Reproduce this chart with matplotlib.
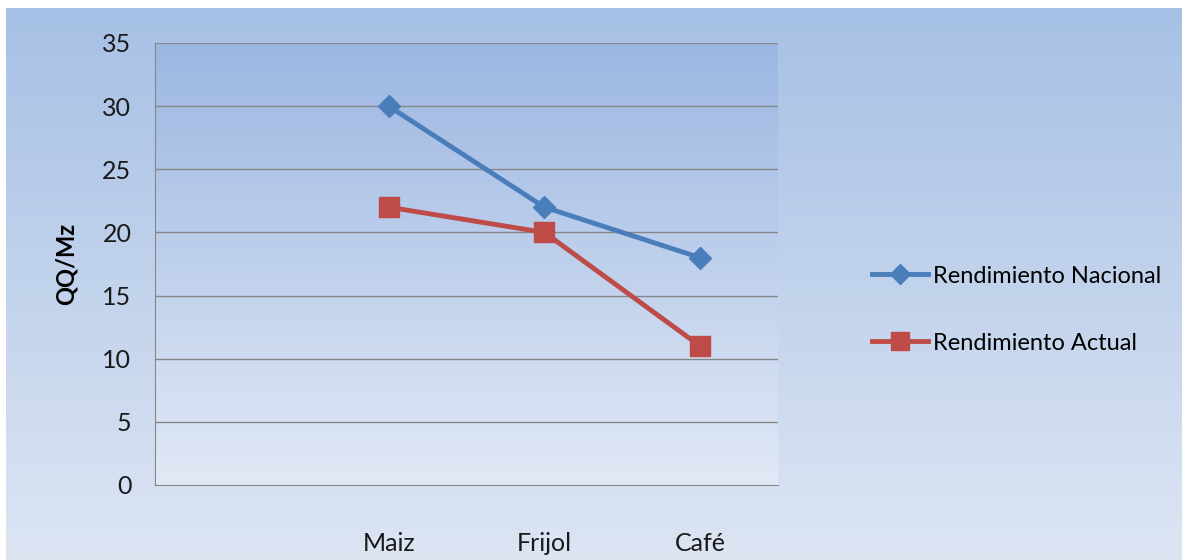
import matplotlib.pyplot as plt
import numpy as np

plt.rcParams['font.family'] = ['Lato', 'DejaVu Sans']

# data
categories = ["", "Maiz", "Frijol", "Café"]
nacional = [30, 22, 18]
actual = [22, 20, 11]
y_ticks = [0, 5, 10, 15, 20, 25, 30, 35]

W, H = 1182, 560
fig = plt.figure(figsize=(W / 100, H / 100), dpi=100)
fig.patch.set_facecolor("white")

# outer background gradient (leaves a thin white border top/left)
bg = fig.add_axes([6 / W, 0, 1 - 6 / W, (H - 8) / H])
bg.axis("off")
top_c = np.array([166, 192, 229]) / 255
bot_c = np.array([221, 229, 243]) / 255
t = np.linspace(0, 1, 256)[:, None]
grad = top_c * (1 - t[..., None]) + bot_c * t[..., None]
bg.imshow(grad, aspect="auto", extent=[0, 1, 0, 1])
bg.set_xlim(0, 1)
bg.set_ylim(0, 1)

# plot area
ax = fig.add_axes([155 / W, (H - 485) / H, 623 / W, 442 / H])
x = np.arange(len(categories))
ax.set_xlim(-0.5, len(categories) - 0.5)
ax.set_ylim(0, 35)

p_top = np.array([156, 183, 226]) / 255
p_bot = np.array([226, 233, 246]) / 255
pgrad = p_top * (1 - t[..., None]) + p_bot * t[..., None]
ax.imshow(pgrad, aspect="auto", extent=[-0.5, len(categories) - 0.5, 0, 35], zorder=0)

for yv in y_ticks[1:]:
    ax.axhline(yv, color="#868686", lw=1, zorder=1)

ax.plot(x[1:], nacional, color="#4A7EBB", lw=3.5, marker="D", markersize=11,
        label="Rendimiento Nacional", zorder=3)
ax.plot(x[1:], actual, color="#BE4B48", lw=3.5, marker="s", markersize=14,
        label="Rendimiento Actual", zorder=3)

ax.set_xticks(x)
ax.set_xticklabels(categories)
ax.set_yticks(y_ticks)
ax.tick_params(axis="x", length=0, pad=34, labelsize=18, colors="#1a1a1a")
ax.tick_params(axis="y", length=0, pad=17, labelsize=18, colors="#1a1a1a")
for s in ["top", "right"]:
    ax.spines[s].set_visible(False)
ax.spines["left"].set_color("#868686")
ax.spines["bottom"].set_color("#868686")

ax.set_ylabel("QQ/Mz", fontsize=17, fontweight="bold", labelpad=18)

leg = ax.legend(loc="center left", bbox_to_anchor=(1.135, 0.397), frameon=False,
                fontsize=17, handlelength=2.4, handletextpad=0.2, labelspacing=1.95,
                borderaxespad=0, markerscale=0.9)

fig.savefig("out.png", dpi=100)
